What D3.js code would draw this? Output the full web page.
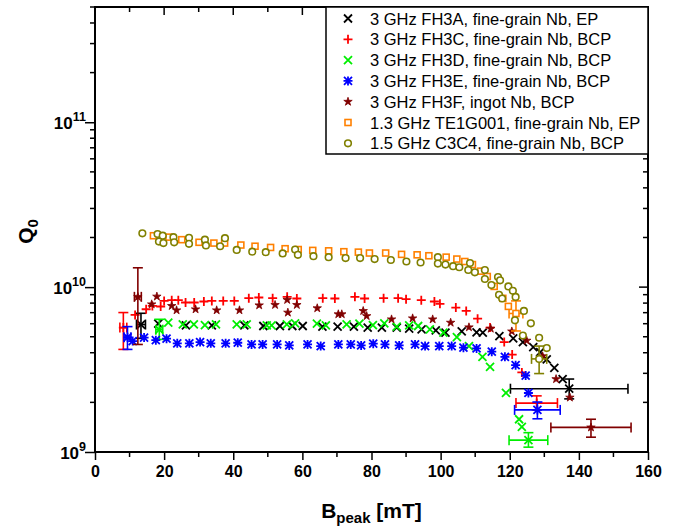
<!DOCTYPE html>
<html>
<head>
<meta charset="utf-8">
<script src="https://cdn.jsdelivr.net/npm/d3@7"></script>
<style>
  body { margin: 0; background: #fff; }
  svg text { font-family: Arial, "Liberation Sans", sans-serif; }
</style>
</head>
<body>
<div id="chart"></div>
<script>
// ---- data (B_peak in mT, Q0) ----
const fh3aB = [18.3, 26.3, 33.8, 43.2, 48.7, 53.5, 57.1, 60.1, 65.8, 70.2, 74.9, 78.9, 83.0, 87.3, 90.9, 94.5, 98.6, 101.4, 106.1, 110.4, 112.2, 117.0, 121.0, 123.8, 126.8, 128.8, 130.7, 132.9, 135.3];
const fh3aQ = [6.01e9, 5.86e9, 5.86e9, 5.86e9, 5.81e9, 5.81e9, 5.81e9, 5.81e9, 5.76e9, 5.76e9, 5.76e9, 5.68e9, 5.68e9, 5.68e9, 5.60e9, 5.55e9, 5.47e9, 5.30e9, 5.39e9, 5.32e9, 5.30e9, 5.05e9, 4.89e9, 4.64e9, 4.33e9, 4.03e9, 3.64e9, 3.24e9, 2.77e9];

const fh3cB = [11.6, 14.8, 16.6, 19.0, 20.0, 22.2, 24.1, 26.2, 28.7, 31.5, 33.8, 37.1, 40.3, 44.5, 47.4, 51.4, 55.6, 58.4, 65.9, 69.4, 75.2, 78.0, 83.5, 87.7, 90.0, 94.4, 98.2, 99.8, 104.4, 107.4, 110.7, 114.3, 118.4, 120.7, 123.5];
const fh3cQ = [6.78e9, 7.34e9, 7.69e9, 7.63e9, 8.25e9, 8.33e9, 8.33e9, 8.07e9, 8.07e9, 8.18e9, 8.25e9, 8.25e9, 8.25e9, 8.57e9, 8.65e9, 8.57e9, 8.73e9, 8.53e9, 8.57e9, 8.53e9, 8.73e9, 8.53e9, 8.57e9, 8.57e9, 8.45e9, 8.33e9, 8.18e9, 7.92e9, 7.52e9, 7.17e9, 6.44e9, 5.68e9, 4.64e9, 3.90e9, 3.04e9];

const fh3dB = [21.2, 25.4, 28.6, 31.8, 35.0, 41.0, 43.9, 49.7, 51.1, 55.5, 57.9, 64.2, 66.8, 72.8, 76.5, 80.4, 83.7, 87.3, 90.9, 93.5, 96.9, 100.8, 104.7, 108.2, 112.1, 114.3, 118.9, 122.7, 123.5];
const fh3dQ = [6.09e9, 5.95e9, 5.95e9, 5.89e9, 5.95e9, 5.95e9, 5.95e9, 5.86e9, 5.86e9, 5.95e9, 6.03e9, 6.01e9, 5.86e9, 5.95e9, 6.01e9, 5.89e9, 6.03e9, 5.76e9, 5.86e9, 5.81e9, 5.55e9, 5.30e9, 4.98e9, 4.39e9, 3.78e9, 3.28e9, 2.28e9, 1.58e9, 1.42e9];

const fh3eB = [10.9, 14.2, 17.6, 20.7, 23.8, 27.3, 30.4, 33.5, 37.8, 41.3, 45.3, 48.5, 52.7, 56.2, 61.5, 65.3, 70.4, 74.0, 77.0, 80.5, 83.9, 88.0, 92.6, 95.5, 99.6, 103.2, 106.6, 110.4, 114.8, 118.6, 121.7, 124.6, 125.4];
const fh3eQ = [4.71e9, 4.94e9, 4.77e9, 4.87e9, 4.56e9, 4.56e9, 4.64e9, 4.56e9, 4.56e9, 4.60e9, 4.49e9, 4.49e9, 4.49e9, 4.43e9, 4.49e9, 4.39e9, 4.49e9, 4.49e9, 4.43e9, 4.54e9, 4.49e9, 4.43e9, 4.49e9, 4.39e9, 4.39e9, 4.39e9, 4.29e9, 4.25e9, 4.06e9, 3.78e9, 3.36e9, 2.91e9, 2.28e9];

const fh3fB = [16.4, 17.9, 22.2, 23.6, 29.1, 35.2, 41.8, 47.5, 52.1, 55.6, 55.8, 58.4, 64.3, 70.4, 71.4, 77.6, 78.6, 85.8, 91.9, 97.7, 102.9, 108.2, 114.5, 120.6, 124.9, 129.5, 133.4, 137.4];
const fh3fQ = [7.87e9, 8.77e9, 7.69e9, 7.24e9, 7.34e9, 7.24e9, 7.24e9, 7.76e9, 7.80e9, 8.37e9, 7.01e9, 7.80e9, 7.45e9, 6.85e9, 6.85e9, 7.17e9, 6.68e9, 6.38e9, 6.47e9, 6.38e9, 6.09e9, 5.71e9, 5.60e9, 5.39e9, 4.74e9, 3.81e9, 2.77e9, 2.14e9];

const te1gB = [16.9, 21.4, 25.1, 30.1, 34.4, 37.5, 42.2, 46.3, 50.8, 55.0, 58.8, 63.0, 67.6, 72.0, 76.2, 79.4, 84.1, 88.7, 93.2, 96.6, 101.6, 104.7, 107.0, 109.2, 111.6, 113.5, 115.5, 118.0, 119.6];
const te1gQ = [2.05e10, 2.01e10, 1.94e10, 1.87e10, 1.85e10, 1.85e10, 1.80e10, 1.77e10, 1.74e10, 1.71e10, 1.69e10, 1.67e10, 1.66e10, 1.64e10, 1.63e10, 1.61e10, 1.61e10, 1.58e10, 1.57e10, 1.55e10, 1.52e10, 1.48e10, 1.43e10, 1.37e10, 1.25e10, 1.16e10, 1.01e10, 8.55e9, 7.64e9];

const c3c4B = [13.7, 18.1, 18.5, 19.6, 19.8, 22.7, 22.9, 27.2, 27.2, 31.8, 32.1, 36.2, 37.6, 41.0, 45.5, 49.4, 54.3, 57.9, 58.7, 63.2, 67.6, 72.5, 76.7, 80.9, 85.6, 90.1, 94.2, 99.2, 99.2, 101.4, 103.6, 105.4, 108.0, 108.5, 109.9, 112.8, 112.8, 114.7, 116.6, 116.9, 117.2, 117.8, 119.6, 120.9, 121.5, 121.7, 123.8, 124.1, 126.1, 128.5, 130.7];
const c3c4Q = [2.12e10, 2.10e10, 1.89e10, 2.05e10, 1.85e10, 2.01e10, 1.87e10, 1.99e10, 1.83e10, 1.94e10, 1.79e10, 1.77e10, 1.98e10, 1.68e10, 1.64e10, 1.63e10, 1.60e10, 1.69e10, 1.57e10, 1.54e10, 1.52e10, 1.50e10, 1.50e10, 1.48e10, 1.46e10, 1.43e10, 1.41e10, 1.52e10, 1.39e10, 1.37e10, 1.34e10, 1.32e10, 1.27e10, 1.40e10, 1.23e10, 1.27e10, 1.12e10, 1.03e10, 1.15e10, 8.98e9, 1.10e10, 8.53e9, 1.01e10, 9.49e9, 6.29e9, 8.72e9, 5.09e9, 7.17e9, 6.03e9, 4.93e9, 4.27e9];

// error-bar points: [B, Q, dB, Qlow, Qhigh]
const fh3aErr = [[13.3, 5.93e9, 1.3, 4.89e9, 6.94e9], [137.2, 2.42e9, 17.0, 2.10e9, 2.77e9]];
const fh3cErr = [[8.2, 5.68e9, 1.0, 4.19e9, 7.01e9], [127.8, 1.98e9, 6.0, 1.80e9, 2.19e9]];
const fh3dErr = [[18.6, 5.52e9, 1.0, 4.82e9, 6.38e9], [125.4, 1.18e9, 5.6, 1.07e9, 1.31e9]];
const fh3eErr = [[9.4, 4.96e9, 1.0, 4.19e9, 5.76e9], [128.0, 1.80e9, 6.6, 1.59e9, 2.01e9]];
const fh3fErr = [[12.4, 8.73e9, 1.0, 4.49e9, 1.31e10], [143.5, 1.41e9, 11.6, 1.23e9, 1.58e9]];
const te1gErr = [[121.8, 6.92e9, 2.0, 5.42e9, 8.25e9]];
const c3c4Err = [[128.5, 3.67e9, 2.2, 2.99e9, 4.39e9]];

const seriesNames = [
  '3 GHz FH3A, fine-grain Nb, EP',
  '3 GHz FH3C, fine-grain Nb, BCP',
  '3 GHz FH3D, fine-grain Nb, BCP',
  '3 GHz FH3E, fine-grain Nb, BCP',
  '3 GHz FH3F, ingot Nb, BCP',
  '1.3 GHz TE1G001, fine-grain Nb, EP',
  '1.5 GHz C3C4, fine-grain Nb, BCP'
];
const seriesColors = ['#000000', '#ff0000', '#00ee00', '#0000ff', '#800000', '#ff8000', '#808000'];
const seriesShapes = ['x', 'plus', 'x', 'asterisk', 'star', 'square', 'circle'];

const xTicks = [0, 20, 40, 60, 80, 100, 120, 140, 160];
const yTicks = [1e9, 1e10, 1e11];

const series = seriesNames.map((name, i) => ({
  name,
  color: seriesColors[i],
  shape: seriesShapes[i],
  B: [fh3aB, fh3cB, fh3dB, fh3eB, fh3fB, te1gB, c3c4B][i],
  Q: [fh3aQ, fh3cQ, fh3dQ, fh3eQ, fh3fQ, te1gQ, c3c4Q][i],
  err: [fh3aErr, fh3cErr, fh3dErr, fh3eErr, fh3fErr, te1gErr, c3c4Err][i]
}));

// ---- layout ----
const width = 688, height = 527;
const margin = {top: 7, right: 40, bottom: 75, left: 95};

const svg = d3.select('#chart')
  .append('svg')
  .attr('width', width)
  .attr('height', height);

const x = d3.scaleLinear()
  .domain([0, 160])
  .range([margin.left, width - margin.right]);

const y = d3.scaleLog()
  .domain([1e9, 5e11])
  .range([height - margin.bottom, margin.top]);

const minorY = [];
[1e9, 1e10, 1e11].forEach((dec) => {
  for (let k = 2; k <= 9; k++) if (dec * k <= 5e11) minorY.push(dec * k);
});
const minorX = d3.range(10, 160, 20);

// bottom axis (outward ticks)
const xAxis = svg.append('g')
  .attr('transform', `translate(0,${height - margin.bottom})`)
  .call(d3.axisBottom(x).tickValues(xTicks).tickSize(8).tickFormat(d3.format('d')));
xAxis.select('.domain').remove();
xAxis.selectAll('.tick line').attr('stroke-width', 1.5);
xAxis.selectAll('.tick text')
  .attr('dy', '0.75em')
  .attr('y', 13)
  .style('font-size', '16px')
  .style('font-weight', 'bold')
  .attr('fill', '#000');
xAxis.selectAll('.minor')
  .data(minorX)
  .join('line')
  .attr('x1', (d) => x(d)).attr('x2', (d) => x(d))
  .attr('y1', 0).attr('y2', 5)
  .attr('stroke', '#000').attr('stroke-width', 1.5);

// left axis (outward ticks)
const yAxis = svg.append('g')
  .attr('transform', `translate(${margin.left},0)`)
  .call(d3.axisLeft(y).tickValues(yTicks).tickSize(10).tickFormat(''));
yAxis.select('.domain').remove();
yAxis.selectAll('.tick line').attr('stroke-width', 1.5);
yAxis.selectAll('.minor')
  .data(minorY)
  .join('line')
  .attr('x1', -5).attr('x2', 0)
  .attr('y1', (d) => y(d)).attr('y2', (d) => y(d))
  .attr('stroke', '#000').attr('stroke-width', 1.5);

const yLabels = yAxis.selectAll('.ylab')
  .data(yTicks)
  .join('text')
  .attr('class', 'ylab')
  .attr('x', -9)
  .attr('y', (d) => y(d) + 7)
  .attr('text-anchor', 'end')
  .attr('fill', '#000')
  .style('font-size', '17px')
  .style('font-weight', 'bold');
yLabels.append('tspan').text('10');
yLabels.append('tspan')
  .attr('dy', -8)
  .style('font-size', '12.5px')
  .text((d) => Math.round(Math.log10(d)));

// right axis (inward ticks)
const rAxis = svg.append('g')
  .attr('transform', `translate(${width - margin.right},0)`);
rAxis.selectAll('.maj')
  .data(yTicks)
  .join('line')
  .attr('x1', -9).attr('x2', 0)
  .attr('y1', (d) => y(d)).attr('y2', (d) => y(d))
  .attr('stroke', '#000').attr('stroke-width', 1.5);
rAxis.selectAll('.minor')
  .data(minorY)
  .join('line')
  .attr('x1', -5).attr('x2', 0)
  .attr('y1', (d) => y(d)).attr('y2', (d) => y(d))
  .attr('stroke', '#000').attr('stroke-width', 1.5);

// top axis (inward ticks)
const tAxis = svg.append('g')
  .attr('transform', `translate(0,${margin.top})`);
tAxis.selectAll('.maj')
  .data(xTicks)
  .join('line')
  .attr('x1', (d) => x(d)).attr('x2', (d) => x(d))
  .attr('y1', 0).attr('y2', 8)
  .attr('stroke', '#000').attr('stroke-width', 1.5);
tAxis.selectAll('.minor')
  .data(minorX)
  .join('line')
  .attr('x1', (d) => x(d)).attr('x2', (d) => x(d))
  .attr('y1', 0).attr('y2', 5)
  .attr('stroke', '#000').attr('stroke-width', 1.5);

// frame
svg.append('rect')
  .attr('x', margin.left)
  .attr('y', margin.top)
  .attr('width', width - margin.left - margin.right)
  .attr('height', height - margin.top - margin.bottom)
  .attr('fill', 'none')
  .attr('stroke', '#000')
  .attr('stroke-width', 2);

// axis titles
const xTitle = svg.append('text')
  .attr('x', (margin.left + width - margin.right) / 2)
  .attr('y', 518)
  .attr('text-anchor', 'middle')
  .style('font-size', '21px')
  .style('font-weight', 'bold');
xTitle.append('tspan').text('B');
xTitle.append('tspan').attr('dy', 5).style('font-size', '15px').text('peak');
xTitle.append('tspan').attr('dy', -5).text(' [mT]');

const yTitle = svg.append('text')
  .attr('transform', `translate(33,${(margin.top + height - margin.bottom) / 2 + 2}) rotate(-90)`)
  .attr('text-anchor', 'middle')
  .style('font-size', '21px')
  .style('font-weight', 'bold');
yTitle.append('tspan').text('Q');
yTitle.append('tspan').attr('dy', 5).style('font-size', '15px').text('0');

// ---- symbols ----
const s = 4;
function drawSymbol(g, shape, color) {
  if (shape === 'x') {
    g.append('path').attr('d', `M${-s},${-s}L${s},${s}M${-s},${s}L${s},${-s}`)
      .attr('stroke', color).attr('stroke-width', 1.8).attr('fill', 'none');
  } else if (shape === 'plus') {
    g.append('path').attr('d', `M${-s - 0.5},0L${s + 0.5},0M0,${-s - 0.5}L0,${s + 0.5}`)
      .attr('stroke', color).attr('stroke-width', 1.8).attr('fill', 'none');
  } else if (shape === 'asterisk') {
    g.append('path').attr('d', `M${-s},${-s}L${s},${s}M${-s},${s}L${s},${-s}M${-s - 0.5},0L${s + 0.5},0M0,${-s - 0.5}L0,${s + 0.5}`)
      .attr('stroke', color).attr('stroke-width', 1.8).attr('fill', 'none');
  } else if (shape === 'star') {
    g.append('path').attr('d', d3.symbol(d3.symbolStar, 22)())
      .attr('fill', color).attr('stroke', color).attr('stroke-width', 0.8);
  } else if (shape === 'square') {
    g.append('rect').attr('x', -3).attr('y', -3).attr('width', 6).attr('height', 6)
      .attr('fill', '#fff').attr('stroke', color).attr('stroke-width', 1.6);
  } else if (shape === 'circle') {
    g.append('circle').attr('r', 3.3)
      .attr('fill', '#fff').attr('stroke', color).attr('stroke-width', 1.6);
  }
}

const plot = svg.append('g');

series.forEach((ser) => {
  const g = plot.append('g');
  // error bars
  const cap = 5;
  ser.err.forEach(([b, q, db, qlo, qhi]) => {
    const eb = g.append('g').attr('stroke', ser.color).attr('stroke-width', 1.6).attr('fill', 'none');
    eb.append('line').attr('x1', x(b)).attr('x2', x(b)).attr('y1', y(qlo)).attr('y2', y(qhi));
    eb.append('line').attr('x1', x(b) - cap).attr('x2', x(b) + cap).attr('y1', y(qlo)).attr('y2', y(qlo));
    eb.append('line').attr('x1', x(b) - cap).attr('x2', x(b) + cap).attr('y1', y(qhi)).attr('y2', y(qhi));
    eb.append('line').attr('x1', x(b - db)).attr('x2', x(b + db)).attr('y1', y(q)).attr('y2', y(q));
    eb.append('line').attr('x1', x(b - db)).attr('x2', x(b - db)).attr('y1', y(q) - cap).attr('y2', y(q) + cap);
    eb.append('line').attr('x1', x(b + db)).attr('x2', x(b + db)).attr('y1', y(q) - cap).attr('y2', y(q) + cap);
  });
  const pts = ser.B.map((b, i) => [b, ser.Q[i]]).concat(ser.err.map((e) => [e[0], e[1]]));
  pts.forEach(([b, q]) => {
    const sg = g.append('g').attr('transform', `translate(${x(b)},${y(q)})`);
    drawSymbol(sg, ser.shape, ser.color);
  });
});

// ---- legend ----
const legend = svg.append('g');
legend.append('rect')
  .attr('x', 326).attr('y', margin.top)
  .attr('width', width - margin.right - 326)
  .attr('height', 147)
  .attr('fill', '#fff')
  .attr('stroke', '#000')
  .attr('stroke-width', 1.5);
series.forEach((ser, i) => {
  const ly = 18.5 + i * 20.8;
  const sg = legend.append('g').attr('transform', `translate(348,${ly})`);
  drawSymbol(sg, ser.shape, ser.color);
  legend.append('text')
    .attr('x', 370)
    .attr('y', ly + 6)
    .style('font-size', '16.5px')
    .text(ser.name);
});
</script>
</body>
</html>
